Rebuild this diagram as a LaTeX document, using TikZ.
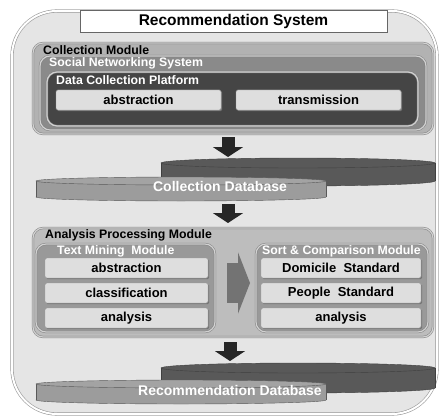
\documentclass[tikz,border=0pt]{standalone}
\usepackage{fontspec}
\setmainfont{Liberation Sans}
\usetikzlibrary{arrows.meta,shadows}

\tikzset{
  modbox/.style={draw=black!50, line width=0.5pt, double=black!18, double distance=1.2pt,
    rounded corners=10pt, inner sep=0pt},
  modlabel/.style={anchor=west, inner sep=0pt, font=\fontsize{12.3}{13}\selectfont\bfseries},
  btnbox/.style={draw=black!40, fill=black!13, rounded corners=1.5pt, inner sep=0pt,
    minimum height=20pt, font=\fontsize{13}{14}\selectfont\bfseries,
    drop shadow={shadow xshift=1.2pt, shadow yshift=-1.2pt, fill=black!55, opacity=1}},
  downarrow/.style={line width=13pt, black!85, -{Triangle[width=30pt,length=10pt]}},
  dblabel/.style={white, inner sep=0pt, font=\fontsize{14}{15}\selectfont\bfseries}
}

\begin{document}
\begin{tikzpicture}[x=1pt, y=-1pt]
    \useasboundingbox (0,0) rectangle (441,417);

    % frame of the whole system
    \node[draw=black!40, line width=0.6pt, double=white, double distance=2pt, fill=black!10,
      rounded corners=45pt, minimum width=425pt, minimum height=403pt, inner sep=0pt] (sys) at (224.5,212.5) {};
    \node[draw=black!60, fill=white, minimum width=307pt, minimum height=22pt, inner sep=0pt,
      font=\fontsize{15.5}{16}\selectfont\bfseries] (title) at (233.5,21) {Recommendation System};

    % collection module
    \node[modbox, fill=black!30, minimum width=400pt, minimum height=91pt] (colmod) at (233,88.5) {};
    \node[modlabel] (colmodlab) at (43,50) {Collection Module};
    \node[modbox, fill=black!46, minimum width=386pt, minimum height=74pt] (sns) at (233,93) {};
    \node[modlabel, white] (snslab) at (49,63) {Social Networking System};
    \node[modbox, fill=black!73, minimum width=371pt, minimum height=54pt] (dcp) at (232.5,99) {};
    \node[modlabel, white] (dcplab) at (56,80) {Data Collection Platform};
    \node[btnbox, minimum width=165pt] (abstr) at (138.5,100) {abstraction};
    \node[btnbox, minimum width=165pt] (trans) at (318.5,100) {transmission};

    % databases
    \foreach \bt/\bb/\ft/\fb/\lx/\ly/\name/\txt in
      {163/181/181/197/220/186/coldb/Collection Database,
       368/388/384/400/230/390/recdb/Recommendation Database} {
      \draw[black!75, fill=black!65] (298,\bb) ellipse [x radius=137, y radius=5];
      \fill[black!65] (161,\bt) rectangle (435,\bb);
      \draw[black!75] (161,\bt) -- (161,\bb);
      \draw[black!75] (435,\bt) -- (435,\bb);
      \draw[black!75, fill=black!65] (298,\bt) ellipse [x radius=137, y radius=5];

      \draw[black!65, fill=black!39] (181,\fb) ellipse [x radius=145, y radius=4];
      \fill[black!39] (36,\ft) rectangle (326,\fb);
      \draw[black!65] (36,\ft) -- (36,\fb);
      \draw[black!65] (326,\ft) -- (326,\fb);
      \draw[black!65, fill=black!36] (181,\ft) ellipse [x radius=145, y radius=4];
      \node[dblabel] (\name) at (\lx,\ly) {\txt};
    }

    % analysis processing module
    \node[modbox, fill=black!26, minimum width=400pt, minimum height=109pt] (apm) at (233,282.5) {};
    \node[modlabel] (apmlab) at (45,235) {Analysis Processing Module};

    \node[modbox, fill=black!40, minimum width=179pt, minimum height=88pt] (tmm) at (125.5,288) {};
    \node[modlabel, white] (tmmlab) at (57,251) {Text Mining\ \ Module};
    \node[btnbox, minimum width=163pt] (tabstr) at (126.5,268) {abstraction};
    \node[btnbox, minimum width=163pt] (tclass) at (126.5,293) {classification};
    \node[btnbox, minimum width=163pt] (tanal) at (126.5,318) {analysis};

    \node[modbox, fill=black!40, minimum width=172pt, minimum height=88pt] (scm) at (342,288) {};
    \node[modlabel, white] (scmlab) at (262,251) {Sort \& Comparison Module};
    \node[btnbox, minimum width=160pt] (sdom) at (341,268) {Domicile\ \ Standard};
    \node[btnbox, minimum width=160pt] (speo) at (341,293) {People\ \ Standard};
    \node[btnbox, minimum width=160pt] (sanal) at (341,318) {analysis};

    % arrows
    \coordinate (a1s) at (228,137);
    \coordinate (a1e) at (228,157);
    \coordinate (a2s) at (228,204);
    \coordinate (a2e) at (228,223);
    \coordinate (a3s) at (230,342);
    \coordinate (a3e) at (230,361);
    \draw[downarrow] (a1s) -- (a1e);
    \draw[downarrow] (a2s) -- (a2e);
    \draw[downarrow] (a3s) -- (a3e);

    \coordinate (m1) at (227,283);
    \coordinate (m2) at (250,283);
    \draw[line width=40pt, black!55, -{Triangle[width=61pt,length=12pt]}] (m1) -- (m2);
\end{tikzpicture}
\end{document}
